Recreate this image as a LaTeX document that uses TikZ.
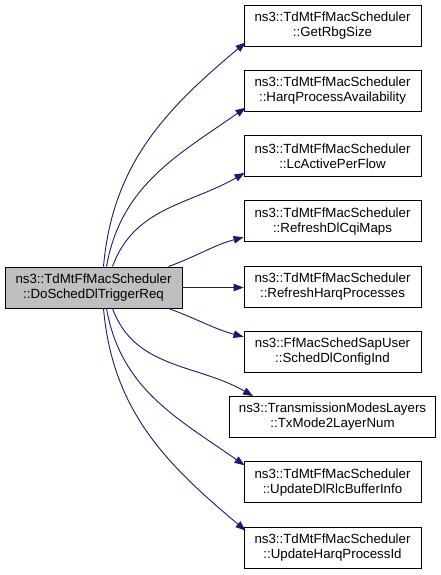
\documentclass[tikz,border=0pt]{standalone}
\usepackage{fontspec}
\setmainfont{Liberation Sans}
\usepackage{tikz}
\usetikzlibrary{arrows.meta,positioning,calc}
\definecolor{edgeNavy}{RGB}{25, 25, 112}
\definecolor{callerGray}{RGB}{191, 191, 191}
\definecolor{boxBorder}{RGB}{0, 0, 0}

\tikzset{
  fnbox/.style={draw=boxBorder, fill=white, line width=0.9pt, minimum width=177pt,
    minimum height=41pt, inner sep=0pt, align=center,
    font=\fontsize{13.3pt}{15pt}\selectfont},
  callerbox/.style={fnbox, fill=callerGray},
  calledge/.style={draw=edgeNavy, line width=0.9pt, -{Triangle[length=10pt,width=7.5pt]}}
}

\begin{document}
\begin{tikzpicture}[x=1pt, y=1pt]
  \useasboundingbox (0,0) rectangle (441,575);

  % caller
  \node[callerbox] (caller) at (93.5,287.5) {ns3::TdMtFfMacScheduler\\::DoSchedDlTriggerReq};

  % callees
  \node[fnbox] (rbg)    at (332.5,549.5)  {ns3::TdMtFfMacScheduler\\::GetRbgSize};
  \node[fnbox] (harq)   at (332.5,484.25) {ns3::TdMtFfMacScheduler\\::HarqProcessAvailability};
  \node[fnbox] (lcact)  at (332.5,419)    {ns3::TdMtFfMacScheduler\\::LcActivePerFlow};
  \node[fnbox] (cqi)    at (332.5,353.75) {ns3::TdMtFfMacScheduler\\::RefreshDlCqiMaps};
  \node[fnbox] (rharq)  at (332.5,288.5)  {ns3::TdMtFfMacScheduler\\::RefreshHarqProcesses};
  \node[fnbox] (schedc) at (332.5,223.25) {ns3::FfMacSchedSapUser\\::SchedDlConfigInd};
  \node[fnbox, minimum width=206pt] (txmode) at (332.5,158) {ns3::TransmissionModesLayers\\::TxMode2LayerNum};
  \node[fnbox] (rlcbuf) at (332.5,92.75)  {ns3::TdMtFfMacScheduler\\::UpdateDlRlcBufferInfo};
  \node[fnbox] (upharq) at (332.5,27.5)   {ns3::TdMtFfMacScheduler\\::UpdateHarqProcessId};

  % calls
  \draw[calledge] ([xshift=10pt]caller.north) to[out=85, in=220] ([xshift=2pt,yshift=4pt]rbg.south west);
  \draw[calledge] ([xshift=13pt]caller.north) to[out=80, in=215] ([xshift=2pt,yshift=4pt]harq.south west);
  \draw[calledge] ([xshift=19pt]caller.north) to[out=70, in=210] ([xshift=1pt,yshift=4pt]lcact.south west);
  \draw[calledge] ([xshift=-14pt]caller.north east) to[out=20, in=195] ([yshift=5pt]cqi.south west);
  \draw[calledge] (caller.east) -- (rharq.west |- caller.east);
  \draw[calledge] ([xshift=-14pt]caller.south east) to[out=-20, in=165] ([yshift=-6pt]schedc.north west);
  \draw[calledge] ([xshift=19pt]caller.south) to[out=-70, in=150] ([xshift=24pt]txmode.north west);
  \draw[calledge] ([xshift=13pt]caller.south) to[out=-80, in=145] ([xshift=1pt,yshift=-4pt]rlcbuf.north west);
  \draw[calledge] ([xshift=10pt]caller.south) to[out=-85, in=140] ([xshift=2pt,yshift=-4pt]upharq.north west);
\end{tikzpicture}
\end{document}
